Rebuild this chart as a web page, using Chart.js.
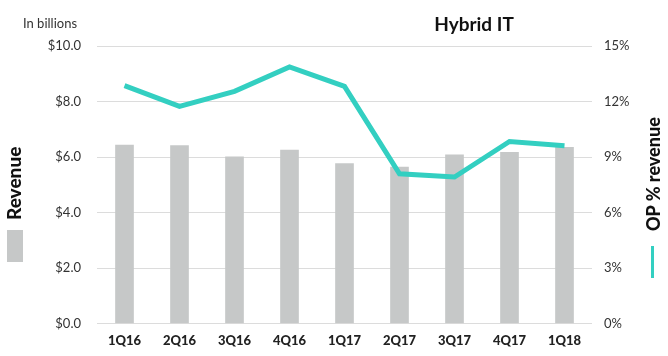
<!DOCTYPE html>
<html>
<head>
<meta charset="utf-8">
<script src="https://cdn.jsdelivr.net/npm/chart.js@4.4.1/dist/chart.umd.min.js"></script>
<style>
  html, body { margin:0; padding:0; background:#fff; }
  #wrap { position:relative; width:668px; height:356px; overflow:hidden; }
  canvas { position:absolute; left:0; top:0; }
  .txt { position:absolute; font-family:Lato, "Open Sans", sans-serif; white-space:nowrap; }
  #unit { left:23px; top:15px; font-size:13px; color:#333; }
  #title { left:474px; top:12px; transform:translateX(-50%); font-size:19px; font-weight:700; color:#111; }
  .vlab { font-weight:900; color:#111; transform-origin:0 0; transform:rotate(-90deg); line-height:16px; }
  #revLab { left:6px; font-size:19px; }
  #opLab { left:645px; font-size:18px; }
  #revSw { position:absolute; left:7px; top:230px; width:16px; height:32px; background:#c6c8c8; }
  #opSw { position:absolute; left:651px; top:246px; width:3px; height:32px; background:#33cfc1; }
</style>
</head>
<body>
<div id="wrap">
  <canvas id="c" width="668" height="356"></canvas>
  <div class="txt" id="unit">In billions</div>
  <div class="txt" id="title">Hybrid IT</div>
  <div class="txt vlab" id="revLab">Revenue</div>
  <div class="txt vlab" id="opLab">OP % revenue</div>
  <div id="revSw"></div>
  <div id="opSw"></div>
</div>
<script>
const categories = ["1Q16","2Q16","3Q16","4Q16","1Q17","2Q17","3Q17","4Q17","1Q18"];
const revenue = [6.43, 6.41, 6.01, 6.25, 5.76, 5.64, 6.08, 6.17, 6.35];
const opMargin = [12.86, 11.74, 12.55, 13.87, 12.82, 8.09, 7.92, 9.84, 9.61];
const revenueTicks = ["$0.0","$2.0","$4.0","$6.0","$8.0","$10.0"];
const marginTicks = ["0%","3%","6%","9%","12%","15%"];

function placeV(id, bottomY) {
  document.getElementById(id).style.top = bottomY + "px";
}
placeV("revLab", 220);
placeV("opLab", 231);

const tickFont = { family: "Lato, 'Open Sans', sans-serif", size: 13 };

new Chart(document.getElementById("c"), {
  data: {
    labels: categories,
    datasets: [
      {
        type: "line",
        label: "OP % revenue",
        data: opMargin,
        yAxisID: "yR",
        borderColor: "#33cfc1",
        borderWidth: 5,
        pointRadius: 0,
        tension: 0,
        fill: false,
        order: 0
      },
      {
        type: "bar",
        label: "Revenue",
        data: revenue,
        yAxisID: "yL",
        backgroundColor: "#c6c8c8",
        barThickness: 18,
        order: 1
      }
    ]
  },
  options: {
    responsive: false,
    animation: false,
    devicePixelRatio: 1,
    layout: { padding: { left: 0, right: 0, top: 46, bottom: 0 } },
    plugins: { legend: { display: false }, tooltip: { enabled: false }, title: { display: false } },
    scales: {
      x: {
        grid: { display: false, drawTicks: false },
        border: { display: false },
        ticks: { color: "#222", font: { family: "Lato, 'Open Sans', sans-serif", size: 13, weight: 900 }, padding: 10, maxRotation: 0 },
        afterFit: (s) => { s.height = 32.5; }
      },
      yL: {
        position: "left",
        min: 0, max: 10,
        ticks: { stepSize: 2, color: "#333", font: tickFont, padding: 16,
                 callback: (v, i) => revenueTicks[i] },
        grid: { color: "#dcdcdc", lineWidth: 1, drawTicks: false },
        border: { display: false },
        afterFit: (s) => { s.width = 97; }
      },
      yR: {
        position: "right",
        min: 0, max: 15,
        ticks: { stepSize: 3, color: "#333", font: tickFont, padding: 12,
                 callback: (v, i) => marginTicks[i] },
        grid: { display: false, drawTicks: false },
        border: { display: false },
        afterFit: (s) => { s.width = 76; }
      }
    }
  }
});
</script>
</body>
</html>
